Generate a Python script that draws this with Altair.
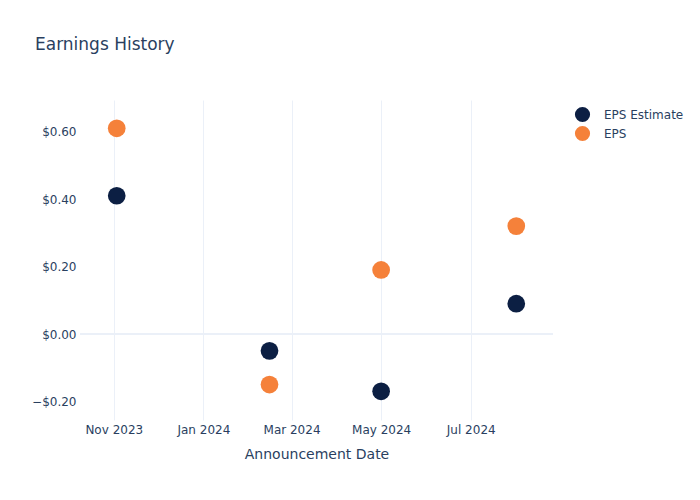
import altair as alt
import pandas as pd

dates = ["2023-11-03", "2024-02-15", "2024-05-01", "2024-08-01"]
eps_estimate = [0.41, -0.05, -0.17, 0.09]
eps_actual = [0.61, -0.15, 0.19, 0.32]
series_names = ["EPS Estimate", "EPS"]
series_colors = ["#0c1f43", "#f5813a"]
y_ticks = [-0.2, 0.0, 0.2, 0.4, 0.6]
x_ticks = ["2023-11-01", "2024-01-01", "2024-03-01", "2024-05-01", "2024-07-01"]

rows = []
for d, v in zip(dates, eps_estimate):
    rows.append({"date": d, "value": v, "series": "EPS Estimate"})
for d, v in zip(dates, eps_actual):
    rows.append({"date": d, "value": v, "series": "EPS"})
df = pd.DataFrame(rows)

font = "DejaVu Sans"
txt = "#2a3f5f"
grid = "#ebf0f8"

def dt(s):
    y, m, d = (int(p) for p in s.split("-"))
    return alt.DateTime(year=y, month=m, date=d)

y_scale = alt.Scale(domain=[-0.255, 0.694], nice=False, zero=False)

x_enc = alt.X(
    "date:T",
    title="Announcement Date",
    scale=alt.Scale(domain=[dt("2023-10-09"), dt("2024-08-26")]),
    axis=alt.Axis(
        values=[dt(s) for s in x_ticks],
        format="%b %Y",
        labelFont=font, labelFontSize=12, labelColor=txt,
        titleFont=font, titleFontSize=14, titleColor=txt, titleFontWeight="normal",
        domain=False, ticks=False, gridColor=grid, gridWidth=1,
        labelPadding=4, titlePadding=12,
    ),
)
y_enc = alt.Y(
    "value:Q",
    title=None,
    scale=y_scale,
    axis=alt.Axis(
        values=y_ticks,
        format="$.2f",
        labelFont=font, labelFontSize=12, labelColor=txt,
        domain=False, ticks=False, gridColor=grid, gridWidth=1,
        labelPadding=4,
    ),
)

zero = alt.Chart(pd.DataFrame({"z": [0.0]})).mark_rule(color=grid, strokeWidth=2).encode(
    y=alt.Y(datum=0)
)

points = alt.Chart(df).mark_circle(size=314, opacity=1).encode(
    x=x_enc,
    y=y_enc,
    color=alt.Color(
        "series:N",
        scale=alt.Scale(domain=series_names, range=series_colors),
        legend=alt.Legend(
            title=None, orient="none", legendX=494, legendY=6,
            labelFont=font, labelFontSize=12, labelColor=txt,
            symbolSize=230, symbolType="circle", symbolOpacity=1,
            labelOffset=13, rowPadding=2, padding=0,
        ),
    ),
    order=alt.Order("series:N"),
)

chart = alt.layer(zero, points).properties(
    width=473,
    height=320,
    autosize=alt.AutoSizeParams(type="none"),
    padding={"left": 80, "top": 100, "right": 147, "bottom": 80},
    title=alt.TitleParams(
        "Earnings History", anchor="start", frame="group", dx=-45, offset=46,
        font=font, fontSize=17, color=txt, fontWeight="normal",
    ),
).configure(background="white").configure_view(stroke="transparent", strokeWidth=0)

chart.save("out.html", embed_options={"renderer": "svg", "actions": False})
